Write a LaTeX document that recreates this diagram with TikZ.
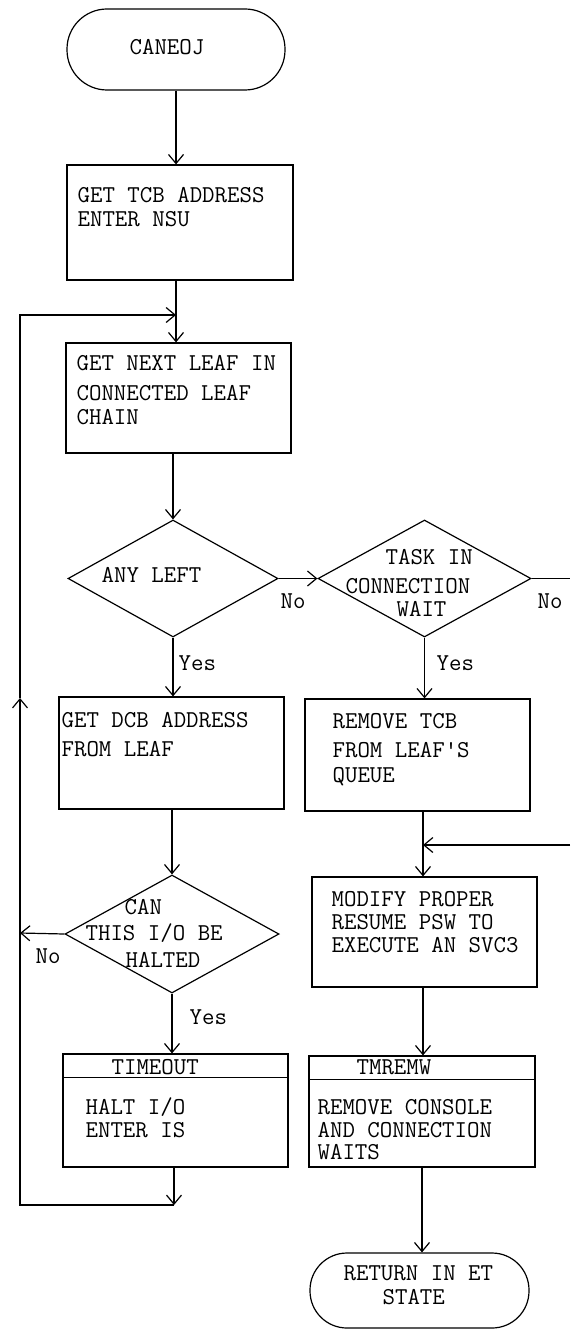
\documentclass[tikz,border=0pt]{standalone}
\usepackage{fontspec}
\usetikzlibrary{shapes.geometric,arrows.meta}
\begin{document}
\begin{tikzpicture}[x=1pt,y=-1pt,line width=1.2pt,
  proc/.style={draw,rectangle,inner sep=0pt},
  term/.style={draw,rectangle,rounded corners=#1,inner sep=0pt},
  dec/.style={draw,diamond,inner sep=0pt},
  txt/.style={anchor=base west,inner sep=0pt,font=\ttfamily\fontsize{24.2}{26}\selectfont},
  arr/.style={-{Straight Barb[length=9pt,width=15pt]}}]
\useasboundingbox (0,0) rectangle (570,1329);
% shapes
\node[term=40pt,minimum width=218pt,minimum height=81pt] (t1) at (176,49.5) {};
\node[txt] (t1a) at (129,55) {CANEOJ};
\node[proc,minimum width=226pt,minimum height=115pt] (b1) at (180,222.5) {};
\node[txt] (b1a) at (77,203) {GET TCB ADDRESS};
\node[txt] (b1b) at (77,227) {ENTER NSU};
\node[proc,minimum width=225pt,minimum height=110pt] (b2) at (178.5,398) {};
\node[txt] (b2a) at (76,370) {GET NEXT LEAF IN};
\node[txt] (b2b) at (76,400) {CONNECTED LEAF};
\node[txt] (b2c) at (76,424) {CHAIN};
\node[dec,minimum width=210pt,minimum height=117pt] (d1) at (173,578.5) {};
\node[txt] (d1a) at (101,582) {ANY LEFT};
\node[dec,minimum width=213pt,minimum height=117pt] (d2) at (424.5,578.5) {};
\node[txt] (d2a) at (385,564) {TASK IN};
\node[txt] (d2b) at (345,593) {CONNECTION};
\node[txt] (d2c) at (396,616) {WAIT};
\node[proc,minimum width=225pt,minimum height=112pt] (b3) at (171.5,753) {};
\node[txt] (b3a) at (61,727) {GET DCB ADDRESS};
\node[txt] (b3b) at (61,756) {FROM LEAF};
\node[proc,minimum width=225pt,minimum height=112pt] (b4) at (417.5,755) {};
\node[txt] (b4a) at (332,728) {REMOVE TCB};
\node[txt] (b4b) at (332,757) {FROM LEAF\textquotesingle S};
\node[txt] (b4c) at (332,782) {QUEUE};
\node[dec,minimum width=214pt,minimum height=118pt] (d3) at (172,934) {};
\node[txt] (d3a) at (124,914) {CAN};
\node[txt] (d3b) at (85,940) {THIS I/O BE};
\node[txt] (d3c) at (125,967) {HALTED};
\node[proc,minimum width=225pt,minimum height=110pt] (b5) at (424.5,932) {};
\node[txt] (b5a) at (331,906) {MODIFY PROPER};
\node[txt] (b5b) at (331,929) {RESUME PSW TO};
\node[txt] (b5c) at (331,952) {EXECUTE AN SVC3};
\node[proc,minimum width=225pt,minimum height=113pt] (b6) at (175.5,1110.5) {};
\draw ([yshift=-24pt]b6.north west) -- ([yshift=-24pt]b6.north east);
\node[txt] (b6h) at (111,1074) {TIMEOUT};
\node[txt] (b6a) at (85,1114) {HALT I/O};
\node[txt] (b6b) at (85,1137) {ENTER IS};
\node[proc,minimum width=226pt,minimum height=111pt] (b7) at (422,1111.5) {};
\draw ([yshift=-24pt]b7.north west) -- ([yshift=-24pt]b7.north east);
\node[txt] (b7h) at (356,1074) {TMREMW};
\node[txt] (b7a) at (317,1114) {REMOVE CONSOLE};
\node[txt] (b7b) at (317,1137) {AND CONNECTION};
\node[txt] (b7c) at (317,1159) {WAITS};
\node[term=37pt,minimum width=219pt,minimum height=75pt] (t2) at (419.5,1290.5) {};
\node[txt] (t2a) at (343,1280) {RETURN IN ET};
\node[txt] (t2b) at (382,1304) {STATE};
% labels
\node[txt] (y1) at (178,670) {Yes};
\node[txt] (y2) at (436,670) {Yes};
\node[txt] (y3) at (189,1024) {Yes};
\node[txt] (n1) at (280,608) {No};
\node[txt] (n2) at (537,608) {No};
\node[txt] (n3) at (35,963) {No};
% coordinates
\coordinate (j1) at (176,315);
\coordinate (lb) at (174,1205);
\coordinate (lc) at (20,1205);
\coordinate (lm) at (20,698);
\coordinate (lt) at (20,315);
\coordinate (ln) at (20,933);
\coordinate (re) at (570,578.5);
\coordinate (rs) at (570,845);
\coordinate (cx) at (423,845);
% connectors
\draw[arr] (t1.south) -- (t1.south |- b1.north);
\draw[arr] (j1 |- b1.south) -- (j1 |- b2.north);
\draw[arr] (lb |- b6.south) -- (lb);
\draw[arr] (lb) -- (lc) -- (lm);
\draw[arr] (lm) -- (lt) -- (j1);
\draw[arr] (d3.west) -- (ln);
\draw[arr] (b2.south -| d1.north) -- (d1.north);
\draw[arr] (d1.east) -- (d2.west);
\draw (d2.east) -- (re);
\draw[arr] (d1.south) -- (d1.south |- b3.north);
\draw[arr] (d2.south) -- (d2.south |- b4.north);
\draw[arr] (b3.south -| d3.north) -- (d3.north);
\draw[arr] (cx |- b4.south) -- (cx |- b5.north);
\draw[arr] (rs) -- (cx);
\draw[arr] (d3.south) -- (d3.south |- b6.north);
\draw[arr] (cx |- b5.south) -- (cx |- b7.north);
\draw[arr] (b7.south) -- (b7.south |- t2.north);
\end{tikzpicture}
\end{document}
